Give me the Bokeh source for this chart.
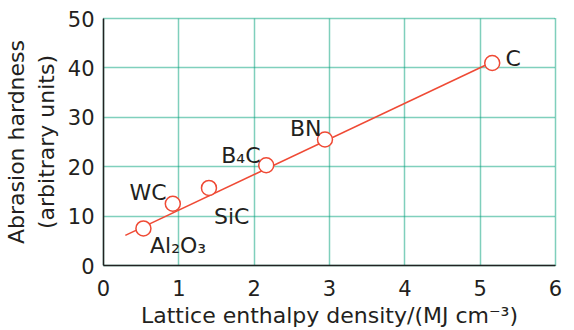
from bokeh.plotting import figure
from bokeh.models import ColumnDataSource, FixedTicker
from bokeh.core.properties import value
from bokeh.embed import file_html
from bokeh.resources import INLINE

# data
materials = ["Al₂O₃", "WC", "SiC", "B₄C", "BN", "C"]
lattice_enthalpy = [0.53, 0.92, 1.40, 2.16, 2.94, 5.16]
abrasion_hardness = [7.5, 12.5, 15.7, 20.3, 25.5, 41.0]
fit_x = [0.29, 5.16]
fit_y = [6.1, 41.2]
x_ticks = [0, 1, 2, 3, 4, 5, 6]
y_ticks = [0, 10, 20, 30, 40, 50]

# label placement (screen px offsets from each point)
label_dx = [6.6, -43.4, 5, -45, -35, 13.3]
label_dy = [16.7, -11.7, 29, -9.4, -11, -4.3]

FONT = "DejaVu Sans"
TXT = "#231f20"
RED = "#ef4a35"
GREEN = "#00a07a"

p = figure(frame_width=452, frame_height=247, x_range=(0, 6), y_range=(0, 50),
           output_backend="svg", toolbar_location=None,
           min_border_left=96, min_border_right=10,
           min_border_top=18, min_border_bottom=50)

p.outline_line_color = GREEN
p.outline_line_dash = "1 1"
p.outline_line_width = 1.5

for g in (p.xgrid, p.ygrid):
    g.grid_line_color = GREEN
    g.grid_line_dash = "1 1"
    g.grid_line_width = 1.5

p.xaxis.ticker = FixedTicker(ticks=x_ticks)
p.yaxis.ticker = FixedTicker(ticks=y_ticks)

for ax in (p.xaxis, p.yaxis):
    ax.major_tick_line_color = None
    ax.minor_tick_line_color = None
    ax.axis_line_color = "#222222"
    ax.axis_line_width = 1.5
    ax.major_label_text_font = FONT
    ax.major_label_text_font_size = "21px"
    ax.major_label_text_color = TXT
    ax.axis_label_text_font = FONT
    ax.axis_label_text_font_size = "22px"
    ax.axis_label_text_font_style = "normal"
    ax.axis_label_text_color = TXT

p.xaxis.axis_label = "Lattice enthalpy density/(MJ cm⁻³)"
p.yaxis.axis_label = "Abrasion hardness\n(arbitrary units)"
p.xaxis.major_label_standoff = 8
p.yaxis.major_label_standoff = 3
p.xaxis.axis_label_standoff = 4
p.yaxis.axis_label_standoff = 6

src = ColumnDataSource(dict(x=lattice_enthalpy, y=abrasion_hardness,
                            name=materials, dx=label_dx, dy=label_dy))

p.line(fit_x, fit_y, line_color=RED, line_width=1.5)
p.scatter("x", "y", source=src, size=15, marker="circle",
          fill_color="white", line_color=RED, line_width=1.5)
p.text("x", "y", text="name", source=src, x_offset="dx", y_offset="dy",
       text_font=value(FONT), text_font_size="22px", text_color=TXT,
       text_align="left", text_baseline="alphabetic")

open("out.html", "w").write(file_html(p, INLINE))
